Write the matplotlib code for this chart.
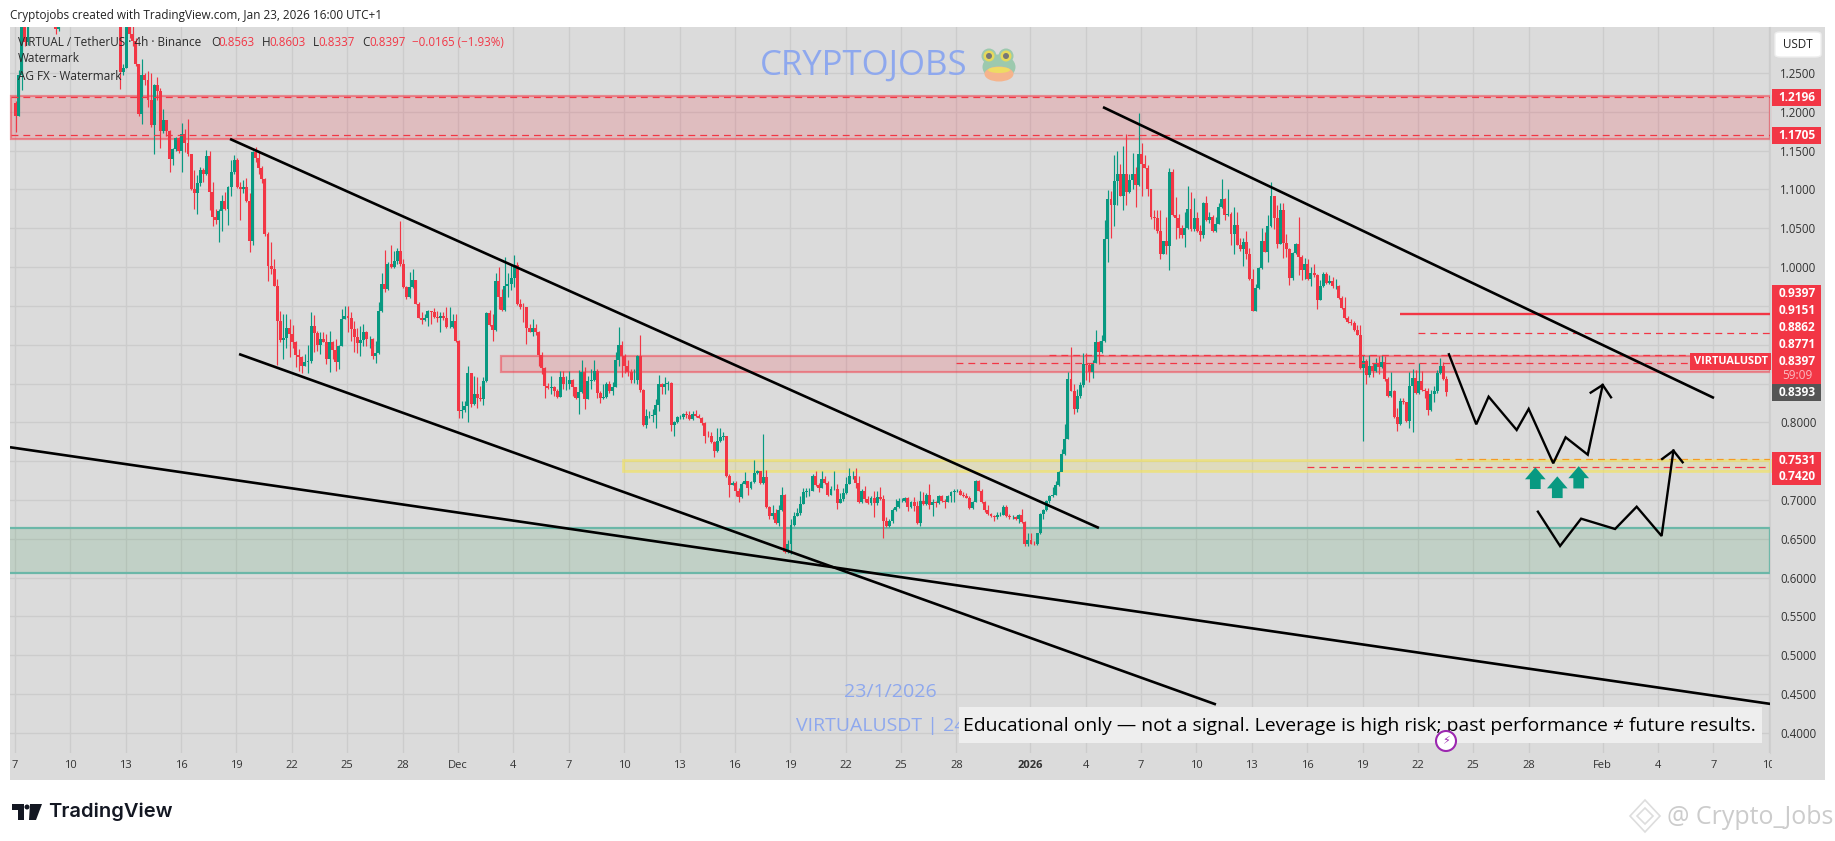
import numpy as np
import matplotlib
matplotlib.use('Agg')
import matplotlib.pyplot as plt
from matplotlib.patches import Rectangle, FancyBboxPatch, Ellipse, Polygon
from matplotlib.transforms import Bbox

W, H = 1835, 841
plt.rcParams['font.family'] = ['Open Sans', 'DejaVu Sans']

# 4h candles, open = previous close
first_open = 1.211

close_nov = [1.194,1.248,1.34,1.29,1.33,1.37,1.40,1.42,1.44,1.43,
             1.41,1.38,1.36,1.306,1.325,1.34,1.37,1.39,1.41,1.43,
             1.42,1.44,1.45,1.43,1.40,1.38,1.36,1.34,1.33,1.35,
             1.37,1.38,1.39,1.37,
             1.251,1.257,1.35,1.30,1.291,1.261,1.197,1.247,1.241,1.215,
             1.183,1.234,1.227,1.175,1.19,1.175,1.139,1.152,1.166,1.149,
             1.171,1.16,1.145,1.10,1.095,1.108,1.125,1.12,1.143,1.097,
             1.064,1.06,1.072,1.085,1.075,1.103,1.122,1.138,1.103,1.101,
             1.103,1.085,1.034,1.148,1.14,1.128,1.113,1.042]
high_nov = [1.214,1.254,1.37,1.37,1.36,1.39,1.42,1.44,1.46,1.46,
            1.44,1.42,1.39,1.37,1.34,1.36,1.39,1.41,1.43,1.45,
            1.45,1.46,1.47,1.46,1.44,1.41,1.39,1.37,1.36,1.37,
            1.39,1.40,1.41,1.40,
            1.37,1.262,1.37,1.36,1.32,1.295,1.262,1.268,1.25,1.252,
            1.25,1.236,1.245,1.23,1.203,1.19,1.176,1.153,1.167,1.167,
            1.186,1.178,1.191,1.146,1.125,1.118,1.129,1.128,1.151,1.15,
            1.11,1.075,1.075,1.0925,1.097,1.104,1.138,1.144,1.14,1.11,
            1.112,1.115,1.095,1.149,1.155,1.148,1.13,1.115]
low_nov = [1.174,1.194,1.228,1.285,1.286,1.325,1.36,1.39,1.41,1.42,
           1.40,1.37,1.34,1.30,1.304,1.318,1.335,1.36,1.38,1.40,
           1.41,1.41,1.43,1.42,1.39,1.37,1.35,1.33,1.32,1.32,
           1.34,1.31,1.37,1.36,
           1.229,1.248,1.256,1.295,1.285,1.259,1.194,1.184,1.235,1.206,
           1.18,1.146,1.215,1.154,1.173,1.169,1.123,1.132,1.15,1.147,
           1.123,1.148,1.143,1.099,1.075,1.068,1.105,1.11,1.118,1.073,
           1.053,1.055,1.032,1.046,1.073,1.054,1.092,1.12,1.102,1.06,
           1.095,1.084,1.02,1.028,1.135,1.12,1.108,1.04]

close_dec = [1.002,.997,.976,.931,.906,.909,.922,.914,.903,.887,
             .884,.873,.878,.879,.924,.915,.9,.907,.904,.881,
             .904,.893,.878,.899,.933,.937,.934,.92,.91,.902,
             .906,.917,.907,.908,.886,.889,.944,.978,.972,1.004,
             1.0,1.008,1.021,1.004,.974,.961,.974,.983,.953,.935,
             .932,.935,.943,.942,.936,.934,.937,.935,.923,.923,
             .931,.905,.815,.816,.821,.863,.824,.837,.831,.83,
             .853,.941,.925,.919,.982,.961,.945,.975,.978,.986,
             1.003,.953,.949,.948,.921,.917,.921,.916,.887,.87,
             .847,.844,.846,.84,.833,.859,.849,.85,.855,.845,
             .831,.839,.865,.83,.853,.854,.866,.838,.831,.833,
             .85,.84,.846,.88,.9,.885,.872,.865,.854,.854,
             .886,.842,.796,.808,.808,.809,.823,.85,.845,.85,
             .851,.797,.8,.807,.807,.811]
high_dec = [1.045,1.032,1.01,.985,.943,.94,.94,.933,.925,.905,
            .894,.886,.888,.90,.942,.938,.918,.917,.917,.914,
            .918,.905,.907,.9,.946,.95,.95,.942,.931,.922,
            .924,.927,.918,.911,.909,.905,.955,.993,1.022,1.006,
            1.028,1.021,1.024,1.059,1.01,.976,.994,.998,.983,.955,
            .942,.94,.945,.944,.947,.944,.942,.942,.949,.948,
            .94,.94,.906,.828,.828,.873,.864,.86,.858,.847,
            .858,.942,.945,.94,.993,1.0,.972,1.013,.993,1.004,
            1.015,1.006,.959,.954,.949,.927,.933,.927,.918,.89,
            .871,.851,.86,.847,.843,.866,.866,.86,.866,.856,
            .846,.868,.88,.871,.86,.869,.88,.869,.84,.849,
            .852,.853,.852,.89,.923,.905,.888,.88,.869,.869,
            .887,.913,.843,.817,.815,.817,.83,.861,.851,.859,
            .853,.852,.802,.808,.809,.812]
low_dec = [.982,.991,.975,.874,.903,.882,.896,.884,.896,.871,
           .866,.864,.873,.864,.877,.89,.892,.888,.903,.875,
           .865,.881,.866,.869,.899,.933,.916,.905,.89,.889,
           .886,.899,.899,.896,.882,.877,.888,.942,.968,.97,
           .999,.999,1.004,1.002,.973,.959,.96,.973,.952,.934,
           .927,.931,.924,.927,.935,.929,.917,.932,.922,.922,
           .922,.904,.806,.806,.813,.8,.82,.822,.819,.828,
           .822,.852,.924,.905,.918,.946,.944,.944,.962,.971,
           .974,.951,.946,.929,.901,.916,.911,.912,.873,.862,
           .832,.843,.836,.834,.832,.833,.843,.842,.843,.834,
           .83,.811,.838,.817,.83,.843,.853,.832,.825,.83,
           .832,.838,.835,.846,.873,.858,.864,.86,.851,.851,
           .849,.839,.795,.793,.806,.8,.793,.815,.836,.836,
           .842,.789,.783,.799,.804,.804]

close_late = [.81,.804,.811,.808,.806,.799,.783,.782,.775,.763,
              .776,.781,.782,.731,.719,.722,.711,.704,.721,.724,
              .715,.723,.735,.737,.722,.73,.691,.679,.683,.67,
              .687,.707,.633,.643,.668,.679,.683,.695,.71,.711,
              .711,.731,.719,.716,.727,.722,.706,.714,.714,.696,
              .701,.709,.721,.731,.731,.722,.697,.711,.701,.696,
              .703,.696,.704,.701,.673,.666,.673,.687,.691,.699,
              .699,.702,.691,.698,.692,.67,.699,.695,.706,.694,
              .697,.696,.705,.699,.698,.705,.71,.711,.712,.707,
              .705,.703,.69,.698,.724,.712,.697,.687,.682,.679,
              .678,.681,.681,
              .691,.679,.678,.678,.675,.681,.672,.644,.648,.644,
              .643,.657,.682,.687,.699,.705,.707,.719,.736]
high_late = [.815,.815,.815,.816,.811,.807,.8,.789,.787,.776,
             .793,.793,.787,.783,.734,.725,.725,.716,.723,.736,
             .725,.725,.751,.739,.737,.785,.739,.692,.694,.688,
             .694,.717,.708,.649,.675,.684,.69,.705,.716,.716,
             .716,.733,.737,.722,.737,.731,.724,.718,.737,.721,
             .709,.716,.73,.741,.737,.741,.731,.714,.718,.705,
             .705,.711,.711,.717,.707,.678,.675,.69,.701,.703,
             .702,.704,.704,.699,.704,.699,.712,.71,.709,.721,
             .701,.699,.706,.706,.701,.706,.711,.714,.714,.714,
             .71,.709,.705,.699,.726,.726,.714,.699,.694,.683,
             .681,.684,.684,
             .694,.694,.682,.681,.679,.682,.688,.673,.657,.657,
             .647,.658,.683,.688,.70,.706,.717,.724,.737]
low_late = [.806,.803,.803,.807,.805,.796,.773,.781,.774,.755,
            .762,.775,.777,.73,.704,.719,.705,.697,.703,.72,
            .707,.714,.722,.734,.72,.721,.69,.676,.675,.669,
            .666,.686,.632,.632,.631,.666,.679,.681,.695,.704,
            .705,.711,.718,.71,.715,.721,.705,.706,.713,.689,
            .696,.699,.708,.72,.727,.716,.696,.696,.697,.695,
            .694,.678,.694,.7,.651,.665,.665,.671,.686,.69,
            .698,.698,.686,.69,.686,.669,.667,.694,.694,.688,
            .68,.691,.695,.698,.69,.697,.698,.698,.71,.706,
            .704,.702,.689,.688,.697,.711,.696,.685,.681,.678,
            .673,.676,.68,
            .681,.678,.675,.675,.674,.67,.671,.641,.641,.643,
            .642,.642,.656,.676,.686,.696,.704,.706,.718]

close_jan = [.759,.779,.856,.841,.817,.834,.848,.875,.874,.865,
             .877,.904,.89,.905,1.036,1.088,1.08,1.111,1.12,1.092,
             1.12,1.097,1.112,1.12,1.106,1.145,1.133,1.128,1.10,1.064,
             1.063,1.047,1.017,1.033,1.027,1.122,1.067,1.063,1.05,1.041,
             1.05,1.075,1.049,1.063,1.047,1.041,1.083,1.06,1.064,1.046,
             1.056,1.077,1.088,1.067,1.069,1.043,1.054,1.029,1.023,1.032,
             1.017,.985,.944,.973,.999,1.033,1.02,1.053,1.091,1.063,
             1.03,1.073,1.031,1.023,.986,1.018,1.03,1.013,.996,1.004,
             .985,.993,.99,.958,.975,.991,.979,.982,.975,.976,
             .96,.947,.935,.929,.928,.919,.913,.87,
             .879,.861,.872,.866,.877,.871,.878,.856,.834,.841,
             .807,.798,.828,.826,.802,.847,.857,.838,.853,.842,
             .841,.816,.837,.84,.864,.872,.856,.8397]
high_jan = [.766,.798,.865,.897,.849,.843,.852,.889,.889,.877,
            .88,.919,.905,.912,1.061,1.099,1.098,1.144,1.149,1.133,
            1.156,1.171,1.12,1.147,1.129,1.199,1.16,1.144,1.132,1.101,
            1.073,1.073,1.074,1.034,1.064,1.127,1.126,1.09,1.069,1.054,
            1.071,1.104,1.097,1.089,1.071,1.054,1.084,1.092,1.071,1.067,
            1.064,1.082,1.113,1.089,1.101,1.071,1.078,1.071,1.037,1.037,
            1.047,1.024,.997,.978,1.0,1.05,1.045,1.067,1.11,1.092,
            1.08,1.082,1.083,1.042,1.024,1.019,1.031,1.064,1.015,1.012,
            1.011,1.0,1.004,.991,.983,.994,.994,.99,.987,.985,
            .977,.963,.961,.937,.933,.931,.925,.925,
            .887,.882,.887,.877,.883,.885,.887,.885,.859,.865,
            .842,.819,.832,.832,.825,.865,.869,.867,.877,.866,
            .844,.844,.842,.847,.868,.883,.878,.8603]
low_jan = [.753,.758,.778,.84,.811,.813,.832,.846,.854,.852,
           .857,.876,.875,.889,.904,1.006,1.037,1.053,1.08,1.091,
           1.073,1.08,1.096,1.101,1.077,1.105,1.092,1.127,1.092,1.062,
           1.049,1.044,1.011,1.017,1.017,.996,1.066,1.036,1.037,1.037,
           1.026,1.049,1.047,1.047,1.045,1.034,1.037,1.059,1.057,1.045,
           1.045,1.055,1.076,1.06,1.066,1.029,1.017,1.028,1.021,1.002,
           1.011,.984,.943,.943,.972,.998,1.019,1.006,1.052,1.049,
           1.024,1.03,1.012,1.013,.977,.983,1.017,.99,.983,.985,
           .984,.975,.987,.946,.957,.974,.978,.978,.973,.972,
           .959,.946,.933,.928,.926,.918,.912,.869,
           .776,.85,.859,.859,.865,.862,.87,.853,.833,.833,
           .806,.789,.797,.824,.801,.793,.787,.837,.837,.841,
           .832,.809,.815,.826,.838,.862,.854,.8337]

close_vals = close_nov + close_dec + close_late + close_jan
high_vals = high_nov + high_dec + high_late + high_jan
low_vals = low_nov + low_dec + low_late + low_jan

# days counted from Dec 1, price ticks
x_ticks = [-24,-21,-18,-15,-12,-9,-6,-3,0,3,6,9,12,15,18,21,24,27,31,34,37,40,43,46,49,52,55,58,62,65,68,71]
x_labels = ['7','10','13','16','19','22','25','28','Dec','4','7','10','13','16','19','22','25','28',
            '2026','4','7','10','13','16','19','22','25','28','Feb','4','7','10']
y_ticks = [.40,.45,.50,.55,.60,.65,.70,.75,.80,.85,.90,.95,1.00,1.05,1.10,1.15,1.20,1.25]
# these sit behind the price tags
y_hidden = [.75,.85,.90,.95]
last_day = 53.54

# drawings, day / price
trend_lines = [([-12.35,34.72],[1.165,.664]),
               ([-11.86,41.06],[.888,.4367]),
               ([-24.27,71.13],[.768,.4373]),
               ([34.94,68.04],[1.206,.8314])]
path_a_x = [53.68,55.16,55.83,57.35,58.0,59.33,60.0,61.2,62.01]
path_a_y = [.8877,.7975,.8331,.7902,.8173,.7473,.7808,.7584,.8482]
head_a_x = [61.36,62.01,62.46]
head_a_y = [.8383,.8482,.8323]
path_b_x = [58.5,59.7,60.84,62.68,63.85,65.2,65.84]
path_b_y = [.685,.6408,.676,.6627,.6914,.6537,.7636]
head_b_x = [65.23,65.84,66.34]
head_b_y = [.7529,.7636,.7486]
arrow_days = [58.36,59.55,60.71]
arrow_low = [.7142,.7025,.7149]
arrow_high = [.7422,.7305,.7436]

RED = '#f23645'
GREEN = '#089981'
BG = '#dbdbdb'
GRID = '#cccccc'


def px_box(x0, y0, x1, y1, color, z, **kw):
    r = Rectangle((x0/W, 1-y1/H), (x1-x0)/W, (y1-y0)/H, transform=fig.transFigure,
                  facecolor=color, edgecolor='none', zorder=z, **kw)
    fig.add_artist(r)
    return r


def px_text(x, y, s, z=5, **kw):
    kw.setdefault('va', 'center')
    return fig.text(x/W, 1-y/H, s, zorder=z, **kw)


def px_ellipse(x, y, w, h, color, z=5, **kw):
    kw.setdefault('edgecolor', 'none')
    e = Ellipse((x/W, 1-y/H), w/W, h/H, transform=fig.transFigure, facecolor=color, zorder=z, **kw)
    fig.add_artist(e)


def px_poly(pts, color='none', z=5, **kw):
    kw.setdefault('edgecolor', 'none')
    p = Polygon([(a/W, 1-b/H) for a, b in pts], transform=fig.transFigure, facecolor=color, zorder=z, **kw)
    fig.add_artist(p)


def day_px(px):
    return (px-458)/18.46


fig = plt.figure(figsize=(W/100, H/100), dpi=100, facecolor='white')
px_box(10, 27, 1825, 780, BG, -2)

ax = fig.add_axes([10/W, 1-753/H, 1760/W, 726/H], facecolor=BG, zorder=1)
ax.set_xlim(day_px(10), day_px(1770))
ax.set_ylim(.3742, 1.3092)
for s in ['top', 'left', 'bottom']:
    ax.spines[s].set_visible(False)
ax.spines['right'].set_color('#cfcfcf')
ax.yaxis.tick_right()
ax.set_xticks(x_ticks)
ax.set_xticklabels(x_labels)
ax.set_yticks(y_ticks)
ax.set_yticklabels(['' if v in y_hidden else '%.4f' % v for v in y_ticks])
ax.tick_params(axis='y', length=0, pad=7.5, labelsize=8.3, labelcolor='#333333')
ax.tick_params(axis='x', length=0, pad=5, labelsize=8, labelcolor='#333333')
ax.grid(True, color=GRID, lw=1.0)
ax.set_axisbelow(True)

xl = ax.get_xticklabels()
xl[18].set_fontweight('bold')
xl[-1].set_clip_on(True)
xl[-1].set_clip_box(Bbox([[0, 0], [1772, 841]]))

# zones
zone_red = (242/255, 54/255, 69/255)
ax.add_patch(Rectangle((day_px(11), 1.165), day_px(1770)-day_px(11), 1.2197-1.165,
                       facecolor=zone_red+(.18,), edgecolor=zone_red+(.5,), lw=1.6, zorder=1, clip_on=False))
ax.add_patch(Rectangle((day_px(501), .865), day_px(1770)-day_px(501), .8855-.865,
                       facecolor=zone_red+(.18,), edgecolor=zone_red+(.5,), lw=1.6, zorder=1, clip_on=False))
ax.add_patch(Rectangle((day_px(623), .7374), day_px(1770)-day_px(623), .7516-.7374,
                       facecolor=(242/255, 222/255, 60/255, .18), edgecolor=(245/255, 228/255, 90/255, .6),
                       lw=2, zorder=1, clip_on=False))
ax.add_patch(Rectangle((day_px(-10), .6064), day_px(1770)-day_px(-10), .6644-.6064,
                       facecolor=(50/255, 150/255, 80/255, .15), edgecolor='#6bb7a8', lw=1.6, zorder=1))

# candles
closes = np.array(close_vals)
highs = np.array(high_vals)
lows = np.array(low_vals)
opens = np.r_[first_open, closes[:-1]]
xs = last_day - (len(closes)-1-np.arange(len(closes)))/6
colors = [GREEN if c >= o else RED for o, c in zip(opens, closes)]
ax.vlines(xs, lows, highs, colors=colors, lw=.85, zorder=2)
ax.bar(xs, np.abs(closes-opens), bottom=np.minimum(opens, closes), width=.16, color=colors, lw=0, zorder=3)

# level lines
ax.hlines(.9397, day_px(1400), day_px(1770), color=RED, lw=1.7, zorder=4)
dash = (0, (5.5, 4))
ax.hlines([1.2196, 1.1705], day_px(11), day_px(1770), color=RED, lw=.9, linestyles=dash, zorder=4)
ax.hlines(.9151, day_px(1418), day_px(1770), color=RED, lw=.9, linestyles=dash, zorder=4)
ax.hlines(.8862, day_px(1049), day_px(1770), color=RED, lw=.9, linestyles=dash, zorder=4)
ax.hlines(.8771, day_px(956), day_px(1770), color=RED, lw=.9, linestyles=dash, zorder=4)
ax.hlines(.7420, day_px(1307), day_px(1770), color=RED, lw=.9, linestyles=dash, zorder=4)
ax.hlines(.7531, day_px(1455), day_px(1770), color='#f59a23', lw=.9, linestyles=dash, zorder=4)

# trend lines and projected paths
for tx, ty in trend_lines:
    ax.plot(tx, ty, color='black', lw=1.9, zorder=5, solid_capstyle='butt')
for px_, py_ in [(path_a_x, path_a_y), (head_a_x, head_a_y), (path_b_x, path_b_y), (head_b_x, head_b_y)]:
    ax.plot(px_, py_, color='black', lw=1.7, zorder=6, solid_joinstyle='miter')
for d, lo, hi in zip(arrow_days, arrow_low, arrow_high):
    ax.arrow(d, lo, 0, hi-lo, width=.58, head_width=1.12, head_length=.0155,
             length_includes_head=True, fc=GREEN, ec='none', zorder=6)

# header and legend
px_text(10, 15, 'Cryptojobs created with TradingView.com, Jan 23, 2026 16:00 UTC+1', fontsize=8.45, color='#222222')
px_text(18, 42, 'VIRTUAL / TetherUS · 4h · Binance', fontsize=8.5, color='#2a2a2a')
for x, lab, x2, val in [(211, 'O', 218, '0.8563'), (262, 'H', 269, '0.8603'), (313, 'L', 318, '0.8337'), (362, 'C', 369, '0.8397')]:
    px_text(x, 42, lab, fontsize=8.5, color='#2a2a2a')
    px_text(x2, 42, val, fontsize=8.3, color=RED)
px_text(412, 42, '−0.0165 (−1.93%)', fontsize=8.3, color=RED)
px_text(18, 59, 'Watermark', fontsize=8.5, color='#2a2a2a')
px_text(18, 76, 'AG FX - Watermark', fontsize=8.5, color='#2a2a2a')

# watermarks
px_text(760, 66, 'CRYPTOJOBS', fontsize=25, color='#8ea8ee')
px_ellipse(999, 67, 33, 25, '#9cc9ae')
px_ellipse(989, 56, 15, 15, '#9cc9ae')
px_ellipse(1006, 56, 15, 15, '#9cc9ae')
px_ellipse(989, 56, 11, 11, '#e6d95c')
px_ellipse(1006, 56, 11, 11, '#e6d95c')
px_ellipse(989, 56, 6, 6, '#777777')
px_ellipse(1006, 56, 6, 6, '#777777')
px_ellipse(999, 74, 29, 15, '#f5b48c')
px_ellipse(999, 70, 22, 6, '#eedc63')
px_text(890, 692, '23/1/2026', fontsize=14, color='#8ea8ee', ha='center')
px_text(796, 726, 'VIRTUALUSDT | 24', fontsize=14, color='#8ea8ee')

# disclaimer box
px_box(959, 707, 1762, 743, '#eeeeee', 6)
px_text(963, 726, 'Educational only — not a signal. Leverage is high risk; past performance ≠ future results.',
        z=7, fontsize=13.95, color='black')
px_ellipse(1446, 741, 20, 20, 'white', z=8, edgecolor='#9c27b0', lw=1.5)
px_text(1446, 741, '\u26a1', z=9, fontsize=8, color='#9c27b0', ha='center', family='DejaVu Sans')

# price tags
px_box(1772, 89, 1821, 106, RED, 6)
px_box(1772, 127, 1821, 144, RED, 6)
px_box(1772, 285, 1821, 384, RED, 6)
px_box(1772, 384, 1821, 401, '#555555', 6)
px_box(1772, 452, 1821, 485, RED, 6)
px_box(1690, 353, 1771, 370, RED, 6)
for y, s in [(97.5, '1.2196'), (135.5, '1.1705'), (293.5, '0.9397'), (310.5, '0.9151'), (327.5, '0.8862'),
             (344.5, '0.8771'), (361.5, '0.8397'), (392.5, '0.8393'), (460, '0.7531'), (476.5, '0.7420')]:
    px_text(1797, y, s, z=7, fontsize=8.6, color='white', fontweight='bold', ha='center')
px_text(1797, 375.5, '59:09', z=7, fontsize=8.6, color='#fbb9bf', ha='center')
px_text(1730.5, 361.5, 'VIRTUALUSDT', z=7, fontsize=7.8, color='white', fontweight='bold', ha='center')

# USDT button
fig.add_artist(FancyBboxPatch((1775/W, 1-57/H), 46/W, 25/H, boxstyle='round,pad=0,rounding_size=0.003',
                              transform=fig.transFigure, facecolor='white', edgecolor='#eeeeee', lw=1, zorder=6))
px_text(1798, 44.5, 'USDT', z=7, fontsize=8.4, color='#222222', ha='center')

# TradingView logo
px_poly([(12, 804), (24, 804), (24, 820), (18, 820), (18, 810), (12, 810)], '#131722')
px_poly([(30, 804), (42, 804), (36, 820), (29, 820)], '#131722')
px_ellipse(27, 807, 5, 5, '#131722')
px_text(48, 812, 'TradingView', fontsize=14.5, fontweight='semibold', color='#131722', family='Inter')

# corner watermark
px_poly([(1645, 800), (1660, 816), (1645, 832), (1630, 816)], edgecolor='#dddddd', lw=1.2)
px_poly([(1645, 808), (1653, 816), (1645, 824), (1637, 816)], edgecolor='#dddddd', lw=1.2)
px_text(1667, 818, '@ Crypto_Jobs', fontsize=18, color='#cccccc')

fig.savefig('out.png', dpi=100)
